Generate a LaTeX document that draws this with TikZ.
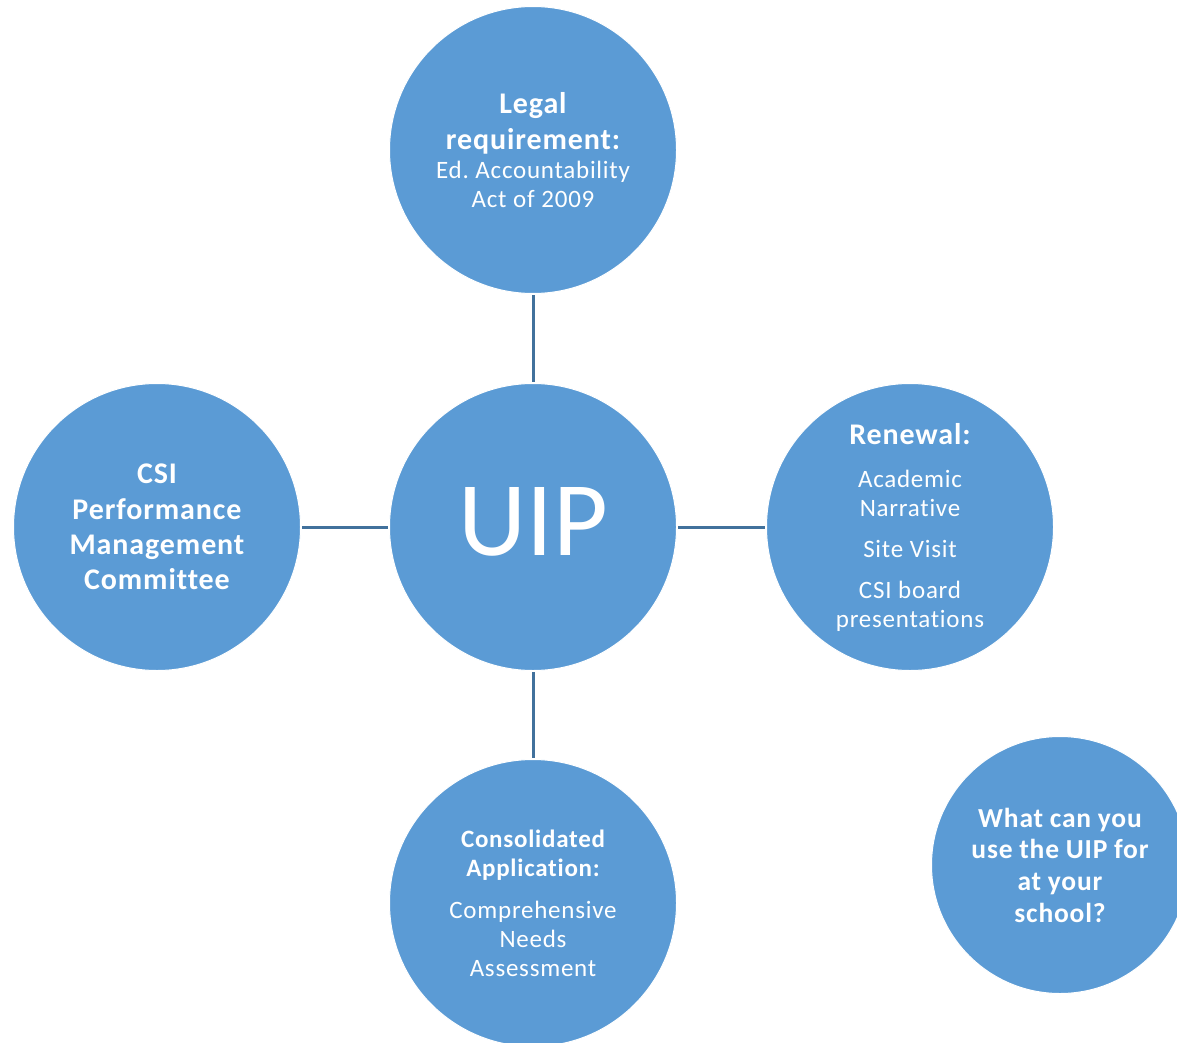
\documentclass[tikz,border=0pt]{standalone}
\usepackage{fontspec}
\setmainfont{Carlito}[Ligatures={NoCommon}, LetterSpace=3]
\newfontfamily\uipfont{Carlito}
\definecolor{cfill}{HTML}{5B9BD5}
\definecolor{cline}{HTML}{41719C}
\begin{document}
\begin{tikzpicture}[x=1pt,y=-1pt,
  bub/.style={circle, fill=cfill, draw=white, line width=1pt, minimum size=287pt, inner sep=0pt, outer sep=1.5pt},
  txt/.style={text=white, align=center, inner sep=0pt, text width=270pt},
  link/.style={draw=cline, line width=3pt}]
\useasboundingbox (0,0) rectangle (1177,1043);
\clip (0,0) rectangle (1177,1043);
\node[bub] (uip) at (533,527) {};
\node[bub] (legal) at (533,150) {};
\node[bub] (csi) at (157,527) {};
\node[bub] (renew) at (910,527) {};
\node[bub] (cons) at (533,903) {};
\node[bub, minimum size=257pt] (what) at (1060,865) {};
\node[txt] (uip-t) at (533,522) {\uipfont\fontsize{106}{120}\selectfont UIP};
\node[txt] (legal-t) at (533,150) {\fontsize{30}{35.5}\selectfont\bfseries Legal\\requirement:\par\vspace{0pt}\normalfont\fontsize{25}{29}\selectfont Ed.\ \ Accountability\\Act\ \ of\ \ 2009\par};
\node[txt] (csi-t) at (157,527) {\fontsize{30}{35.3}\selectfont\bfseries CSI\\Performance\\Management\\Committee\par};
\node[txt] (renew-t) at (910,527) {\fontsize{30}{35}\selectfont\bfseries Renewal:\par\vspace{14pt}\normalfont\fontsize{25}{29}\selectfont Academic\\Narrative\par\vspace{12pt}Site\ \ Visit\par\vspace{12pt}CSI\ \ board\\presentations\par};
\node[txt] (cons-t) at (533,903) {\fontsize{25}{29}\selectfont\bfseries Consolidated\\Application:\par\vspace{13pt}\normalfont\fontsize{25}{29}\selectfont Comprehensive\\Needs\\Assessment\par};
\node[txt, text width=240pt] (what-t) at (1060,865) {\fontsize{27.5}{31.7}\selectfont\bfseries What\ \ can\ \ you\\use\ \ the\ \ UIP\ \ for\\at\ \ your\\school?\par};
\draw[link] (legal) -- (uip);
\draw[link] (uip) -- (cons);
\draw[link] (csi) -- (uip);
\draw[link] (uip) -- (renew);
\end{tikzpicture}
\end{document}
